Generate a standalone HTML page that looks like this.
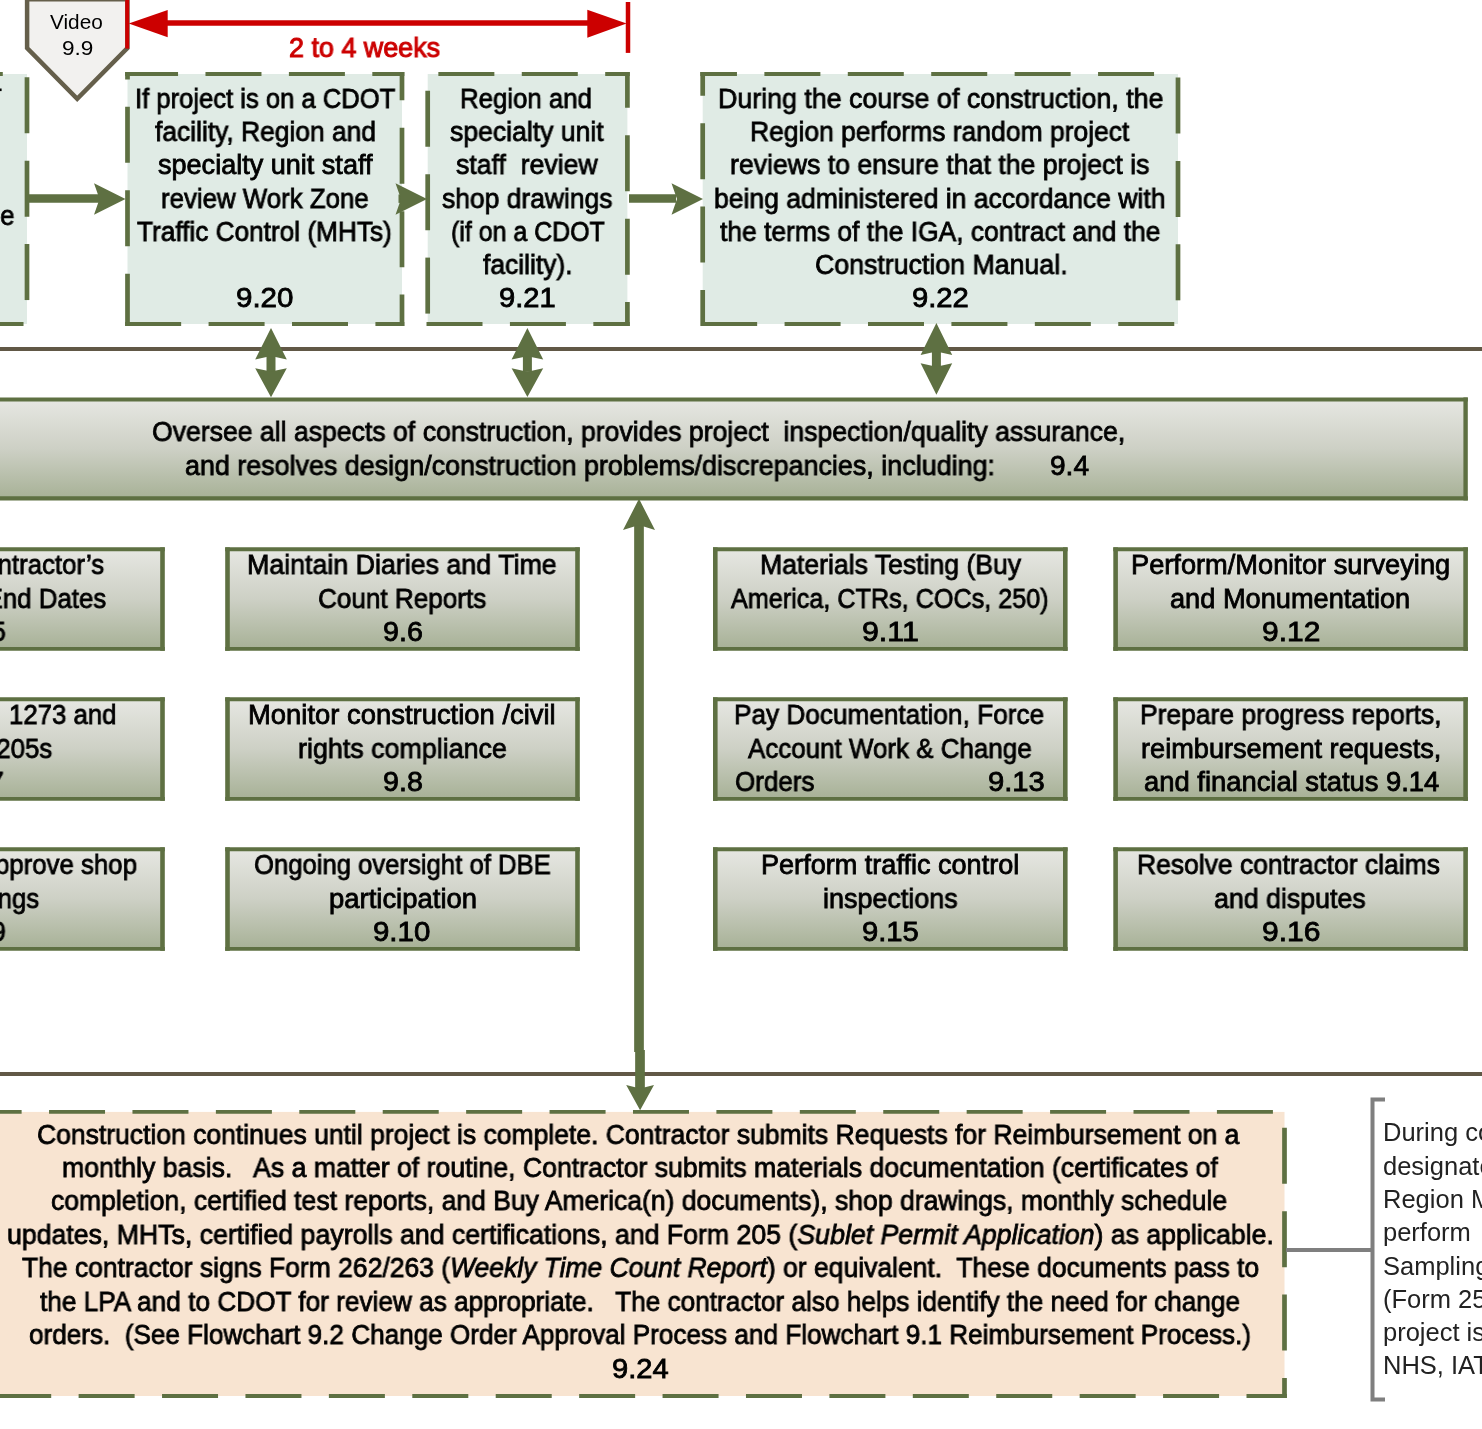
<!DOCTYPE html>
<html><head><meta charset="utf-8"><style>
html,body{margin:0;padding:0;background:#fff;width:1482px;height:1429px;overflow:hidden;position:relative}
svg{position:absolute;left:0;top:0}
.t{position:absolute;white-space:pre;will-change:transform;font-family:"Liberation Sans",sans-serif;line-height:1.111;transform-origin:0 0}
</style></head><body>
<svg width="1482" height="1429" viewBox="0 0 1482 1429">
<defs><linearGradient id="g1" x1="0" y1="0" x2="0" y2="1"><stop offset="0" stop-color="#e6e7e2"/><stop offset="0.5" stop-color="#cdd0c5"/><stop offset="1" stop-color="#a7b196"/></linearGradient></defs>
<rect x="-300" y="74" width="327" height="250" fill="#e0ebe5"/><line x1="-300.00" y1="325.95" x2="-300.00" y2="72.05" stroke="#5e7042" stroke-width="4.7" stroke-dasharray="56 27.42" stroke-dashoffset="1.77"/><line x1="-302.35" y1="74.00" x2="29.35" y2="74.00" stroke="#5e7042" stroke-width="3.9" stroke-dasharray="56 27.42" stroke-dashoffset="1.11"/><line x1="27.00" y1="72.05" x2="27.00" y2="325.95" stroke="#5e7042" stroke-width="4.7" stroke-dasharray="56 27.42" stroke-dashoffset="78.25"/><line x1="29.35" y1="324.00" x2="-302.35" y2="324.00" stroke="#5e7042" stroke-width="3.9" stroke-dasharray="56 27.42" stroke-dashoffset="77.59"/>
<rect x="0" y="88.5" width="1.6" height="2.6" fill="#000"/>
<rect x="127.5" y="74" width="274.5" height="250" fill="#e0ebe5"/><line x1="127.50" y1="325.95" x2="127.50" y2="72.05" stroke="#5e7042" stroke-width="4.7" stroke-dasharray="56 27.42" stroke-dashoffset="3.75"/><line x1="125.15" y1="74.00" x2="404.35" y2="74.00" stroke="#5e7042" stroke-width="3.9" stroke-dasharray="56 27.42" stroke-dashoffset="3.09"/><line x1="402.00" y1="72.05" x2="402.00" y2="325.95" stroke="#5e7042" stroke-width="4.7" stroke-dasharray="56 27.42" stroke-dashoffset="27.73"/><line x1="404.35" y1="324.00" x2="125.15" y2="324.00" stroke="#5e7042" stroke-width="3.9" stroke-dasharray="56 27.42" stroke-dashoffset="27.07"/>
<rect x="427.7" y="74" width="199.7" height="250" fill="#e0ebe5"/><line x1="427.70" y1="325.95" x2="427.70" y2="72.05" stroke="#5e7042" stroke-width="4.7" stroke-dasharray="56 27.42" stroke-dashoffset="71.07"/><line x1="425.35" y1="74.00" x2="629.75" y2="74.00" stroke="#5e7042" stroke-width="3.9" stroke-dasharray="56 27.42" stroke-dashoffset="70.41"/><line x1="627.40" y1="72.05" x2="627.40" y2="325.95" stroke="#5e7042" stroke-width="4.7" stroke-dasharray="56 27.42" stroke-dashoffset="20.25"/><line x1="629.75" y1="324.00" x2="425.35" y2="324.00" stroke="#5e7042" stroke-width="3.9" stroke-dasharray="56 27.42" stroke-dashoffset="19.59"/>
<rect x="702.7" y="74" width="475.29999999999995" height="250" fill="#e0ebe5"/><line x1="702.70" y1="325.95" x2="702.70" y2="72.05" stroke="#5e7042" stroke-width="4.7" stroke-dasharray="56 27.42" stroke-dashoffset="20.05"/><line x1="700.35" y1="74.00" x2="1180.35" y2="74.00" stroke="#5e7042" stroke-width="3.9" stroke-dasharray="56 27.42" stroke-dashoffset="19.39"/><line x1="1178.00" y1="72.05" x2="1178.00" y2="325.95" stroke="#5e7042" stroke-width="4.7" stroke-dasharray="56 27.42" stroke-dashoffset="77.99"/><line x1="1180.35" y1="324.00" x2="700.35" y2="324.00" stroke="#5e7042" stroke-width="3.9" stroke-dasharray="56 27.42" stroke-dashoffset="77.33"/>
<polygon points="27.1,-0.8 127.4,-0.8 127.4,48 77.2,98.8 27.1,48" fill="#f2f1ef" stroke="#655f4b" stroke-width="4.5"/>
<line x1="127.2" y1="-2" x2="127.2" y2="48.6" stroke="#cc0000" stroke-width="4"/>
<line x1="628" y1="2" x2="628" y2="52.9" stroke="#cc0000" stroke-width="4.5"/>
<line x1="160" y1="23" x2="595" y2="23" stroke="#cc0000" stroke-width="5.5"/>
<polygon points="128.7,23.5 167.7,9.9 167.7,37.2" fill="#cc0000"/>
<polygon points="626.6,23.5 587.3,9.8 587.3,37.8" fill="#cc0000"/>
<line x1="29" y1="198.5" x2="100" y2="198.5" stroke="#5e7042" stroke-width="8.4"/>
<polygon points="125.5,199.0 94.0,214.8 99.5,199.0 94.0,183.2" fill="#5e7042"/>
<line x1="398.5" y1="198.7" x2="412" y2="198.7" stroke="#5e7042" stroke-width="8.4"/>
<polygon points="427.0,199.0 395.5,214.8 401.0,199.0 395.5,183.2" fill="#5e7042"/>
<line x1="629" y1="198.5" x2="676" y2="198.5" stroke="#5e7042" stroke-width="8.4"/>
<polygon points="703.0,199.0 671.5,214.8 677.0,199.0 671.5,183.2" fill="#5e7042"/>
<line x1="0" y1="349" x2="1482" y2="349" stroke="#615846" stroke-width="4"/>
<line x1="0" y1="1074" x2="1482" y2="1074" stroke="#615846" stroke-width="4"/>
<line x1="271" y1="353" x2="271" y2="372.2" stroke="#5e7042" stroke-width="9"/>
<polygon points="271.0,328.0 286.8,359.5 271.0,356.1 255.2,359.5" fill="#5e7042"/>
<polygon points="271.0,397.2 255.2,368.2 271.0,371.6 286.8,368.2" fill="#5e7042"/>
<line x1="527.4" y1="353" x2="527.4" y2="371.9" stroke="#5e7042" stroke-width="9"/>
<polygon points="527.4,328.0 543.2,359.6 527.4,356.2 511.6,359.6" fill="#5e7042"/>
<polygon points="527.4,396.9 511.6,368.3 527.4,371.7 543.2,368.3" fill="#5e7042"/>
<line x1="936.4" y1="348" x2="936.4" y2="369.8" stroke="#5e7042" stroke-width="9"/>
<polygon points="936.4,323.0 952.2,354.9 936.4,351.5 920.6,354.9" fill="#5e7042"/>
<polygon points="936.4,394.8 920.6,363.3 936.4,366.7 952.2,363.3" fill="#5e7042"/>
<rect x="-300" y="399.5" width="1765.6" height="98.89999999999998" fill="url(#g1)"/><line x1="-300" y1="397.45" x2="-300" y2="500.45" stroke="#5e7042" stroke-width="4.4"/><line x1="1465.6" y1="397.45" x2="1465.6" y2="500.45" stroke="#5e7042" stroke-width="4.4"/><line x1="-302.2" y1="399.5" x2="1467.8" y2="399.5" stroke="#5e7042" stroke-width="4.1"/><line x1="-302.2" y1="498.4" x2="1467.8" y2="498.4" stroke="#5e7042" stroke-width="4.1"/>
<rect x="-187.5" y="549.3" width="350.0" height="99.60000000000002" fill="url(#g1)"/><line x1="-187.5" y1="547.3499999999999" x2="-187.5" y2="650.85" stroke="#5e7042" stroke-width="4.6"/><line x1="162.5" y1="547.3499999999999" x2="162.5" y2="650.85" stroke="#5e7042" stroke-width="4.6"/><line x1="-189.8" y1="549.3" x2="164.8" y2="549.3" stroke="#5e7042" stroke-width="3.9"/><line x1="-189.8" y1="648.9" x2="164.8" y2="648.9" stroke="#5e7042" stroke-width="3.9"/>
<rect x="227.5" y="549.3" width="350.0" height="99.60000000000002" fill="url(#g1)"/><line x1="227.5" y1="547.3499999999999" x2="227.5" y2="650.85" stroke="#5e7042" stroke-width="4.6"/><line x1="577.5" y1="547.3499999999999" x2="577.5" y2="650.85" stroke="#5e7042" stroke-width="4.6"/><line x1="225.2" y1="549.3" x2="579.8" y2="549.3" stroke="#5e7042" stroke-width="3.9"/><line x1="225.2" y1="648.9" x2="579.8" y2="648.9" stroke="#5e7042" stroke-width="3.9"/>
<rect x="715.3" y="549.3" width="350.0" height="99.60000000000002" fill="url(#g1)"/><line x1="715.3" y1="547.3499999999999" x2="715.3" y2="650.85" stroke="#5e7042" stroke-width="4.6"/><line x1="1065.3" y1="547.3499999999999" x2="1065.3" y2="650.85" stroke="#5e7042" stroke-width="4.6"/><line x1="713.0" y1="549.3" x2="1067.6" y2="549.3" stroke="#5e7042" stroke-width="3.9"/><line x1="713.0" y1="648.9" x2="1067.6" y2="648.9" stroke="#5e7042" stroke-width="3.9"/>
<rect x="1115.6" y="549.3" width="350.0" height="99.60000000000002" fill="url(#g1)"/><line x1="1115.6" y1="547.3499999999999" x2="1115.6" y2="650.85" stroke="#5e7042" stroke-width="4.6"/><line x1="1465.6" y1="547.3499999999999" x2="1465.6" y2="650.85" stroke="#5e7042" stroke-width="4.6"/><line x1="1113.3" y1="549.3" x2="1467.8999999999999" y2="549.3" stroke="#5e7042" stroke-width="3.9"/><line x1="1113.3" y1="648.9" x2="1467.8999999999999" y2="648.9" stroke="#5e7042" stroke-width="3.9"/>
<rect x="-187.5" y="699.3" width="350.0" height="99.60000000000002" fill="url(#g1)"/><line x1="-187.5" y1="697.3499999999999" x2="-187.5" y2="800.85" stroke="#5e7042" stroke-width="4.6"/><line x1="162.5" y1="697.3499999999999" x2="162.5" y2="800.85" stroke="#5e7042" stroke-width="4.6"/><line x1="-189.8" y1="699.3" x2="164.8" y2="699.3" stroke="#5e7042" stroke-width="3.9"/><line x1="-189.8" y1="798.9" x2="164.8" y2="798.9" stroke="#5e7042" stroke-width="3.9"/>
<rect x="227.5" y="699.3" width="350.0" height="99.60000000000002" fill="url(#g1)"/><line x1="227.5" y1="697.3499999999999" x2="227.5" y2="800.85" stroke="#5e7042" stroke-width="4.6"/><line x1="577.5" y1="697.3499999999999" x2="577.5" y2="800.85" stroke="#5e7042" stroke-width="4.6"/><line x1="225.2" y1="699.3" x2="579.8" y2="699.3" stroke="#5e7042" stroke-width="3.9"/><line x1="225.2" y1="798.9" x2="579.8" y2="798.9" stroke="#5e7042" stroke-width="3.9"/>
<rect x="715.3" y="699.3" width="350.0" height="99.60000000000002" fill="url(#g1)"/><line x1="715.3" y1="697.3499999999999" x2="715.3" y2="800.85" stroke="#5e7042" stroke-width="4.6"/><line x1="1065.3" y1="697.3499999999999" x2="1065.3" y2="800.85" stroke="#5e7042" stroke-width="4.6"/><line x1="713.0" y1="699.3" x2="1067.6" y2="699.3" stroke="#5e7042" stroke-width="3.9"/><line x1="713.0" y1="798.9" x2="1067.6" y2="798.9" stroke="#5e7042" stroke-width="3.9"/>
<rect x="1115.6" y="699.3" width="350.0" height="99.60000000000002" fill="url(#g1)"/><line x1="1115.6" y1="697.3499999999999" x2="1115.6" y2="800.85" stroke="#5e7042" stroke-width="4.6"/><line x1="1465.6" y1="697.3499999999999" x2="1465.6" y2="800.85" stroke="#5e7042" stroke-width="4.6"/><line x1="1113.3" y1="699.3" x2="1467.8999999999999" y2="699.3" stroke="#5e7042" stroke-width="3.9"/><line x1="1113.3" y1="798.9" x2="1467.8999999999999" y2="798.9" stroke="#5e7042" stroke-width="3.9"/>
<rect x="-187.5" y="849.3" width="350.0" height="99.60000000000002" fill="url(#g1)"/><line x1="-187.5" y1="847.3499999999999" x2="-187.5" y2="950.85" stroke="#5e7042" stroke-width="4.6"/><line x1="162.5" y1="847.3499999999999" x2="162.5" y2="950.85" stroke="#5e7042" stroke-width="4.6"/><line x1="-189.8" y1="849.3" x2="164.8" y2="849.3" stroke="#5e7042" stroke-width="3.9"/><line x1="-189.8" y1="948.9" x2="164.8" y2="948.9" stroke="#5e7042" stroke-width="3.9"/>
<rect x="227.5" y="849.3" width="350.0" height="99.60000000000002" fill="url(#g1)"/><line x1="227.5" y1="847.3499999999999" x2="227.5" y2="950.85" stroke="#5e7042" stroke-width="4.6"/><line x1="577.5" y1="847.3499999999999" x2="577.5" y2="950.85" stroke="#5e7042" stroke-width="4.6"/><line x1="225.2" y1="849.3" x2="579.8" y2="849.3" stroke="#5e7042" stroke-width="3.9"/><line x1="225.2" y1="948.9" x2="579.8" y2="948.9" stroke="#5e7042" stroke-width="3.9"/>
<rect x="715.3" y="849.3" width="350.0" height="99.60000000000002" fill="url(#g1)"/><line x1="715.3" y1="847.3499999999999" x2="715.3" y2="950.85" stroke="#5e7042" stroke-width="4.6"/><line x1="1065.3" y1="847.3499999999999" x2="1065.3" y2="950.85" stroke="#5e7042" stroke-width="4.6"/><line x1="713.0" y1="849.3" x2="1067.6" y2="849.3" stroke="#5e7042" stroke-width="3.9"/><line x1="713.0" y1="948.9" x2="1067.6" y2="948.9" stroke="#5e7042" stroke-width="3.9"/>
<rect x="1115.6" y="849.3" width="350.0" height="99.60000000000002" fill="url(#g1)"/><line x1="1115.6" y1="847.3499999999999" x2="1115.6" y2="950.85" stroke="#5e7042" stroke-width="4.6"/><line x1="1465.6" y1="847.3499999999999" x2="1465.6" y2="950.85" stroke="#5e7042" stroke-width="4.6"/><line x1="1113.3" y1="849.3" x2="1467.8999999999999" y2="849.3" stroke="#5e7042" stroke-width="3.9"/><line x1="1113.3" y1="948.9" x2="1467.8999999999999" y2="948.9" stroke="#5e7042" stroke-width="3.9"/>
<line x1="639" y1="520" x2="639" y2="1052" stroke="#5e7042" stroke-width="9.7"/>
<line x1="640" y1="1050" x2="640" y2="1090" stroke="#5e7042" stroke-width="9.7"/>
<polygon points="639.0,498.8 655.0,530.0 639.0,525.0 623.0,530.0" fill="#5e7042"/>
<polygon points="640.1,1110.3 626.2,1085.1 640.1,1088.6 654.0,1085.1" fill="#5e7042"/>
<rect x="-300" y="1111.9" width="1584.5" height="284.0999999999999" fill="#f8e4d1"/><line x1="-300.00" y1="1397.95" x2="-300.00" y2="1109.95" stroke="#5e7042" stroke-width="4.7" stroke-dasharray="56 27.42" stroke-dashoffset="32.27"/><line x1="-302.35" y1="1111.90" x2="1286.85" y2="1111.90" stroke="#5e7042" stroke-width="3.9" stroke-dasharray="56 27.42" stroke-dashoffset="65.71"/><line x1="1284.50" y1="1109.95" x2="1284.50" y2="1397.95" stroke="#5e7042" stroke-width="4.7" stroke-dasharray="56 27.42" stroke-dashoffset="65.63"/><line x1="1286.85" y1="1396.00" x2="-302.35" y2="1396.00" stroke="#5e7042" stroke-width="3.9" stroke-dasharray="56 27.42" stroke-dashoffset="15.65"/>
<line x1="1286" y1="1250" x2="1372" y2="1250" stroke="#7f7f7f" stroke-width="4"/>
<path d="M1385,1099.5 L1372.5,1099.5 L1372.5,1399.5 L1385,1399.5" fill="none" stroke="#7f7f7f" stroke-width="4"/>
</svg>
<div class="t" style="left:50.26px;top:11.00px;font-size:20.5px;color:#000;transform:scaleX(1.01339);">Video</div>
<div class="t" style="left:62.09px;top:37.00px;font-size:20.5px;color:#000;transform:scaleX(1.10103);">9.9</div>
<div class="t" style="left:289.38px;top:33.00px;font-size:27.2px;color:#cc0000;transform:scaleX(0.98976);-webkit-text-stroke:1.0px #cc0000;">2 to 4 weeks</div>
<div class="t" style="left:-103.26px;top:201.00px;font-size:27px;color:#000;transform:scaleX(0.95500);-webkit-text-stroke:0.8px #000;">review the</div>
<div class="t" style="left:134.57px;top:84.00px;font-size:27px;color:#000;transform:scaleX(0.94823);-webkit-text-stroke:0.8px #000;">If project is on a CDOT</div>
<div class="t" style="left:154.59px;top:117.00px;font-size:27px;color:#000;transform:scaleX(0.97758);-webkit-text-stroke:0.8px #000;">facility, Region and</div>
<div class="t" style="left:157.68px;top:150.00px;font-size:27px;color:#000;transform:scaleX(1.00164);-webkit-text-stroke:0.8px #000;">specialty unit staff</div>
<div class="t" style="left:160.79px;top:184.00px;font-size:27px;color:#000;transform:scaleX(0.95688);-webkit-text-stroke:0.8px #000;">review Work Zone</div>
<div class="t" style="left:137.28px;top:217.00px;font-size:27px;color:#000;transform:scaleX(0.97048);-webkit-text-stroke:0.8px #000;">Traffic Control (MHTs)</div>
<div class="t" style="left:236.34px;top:283.00px;font-size:27px;color:#000;transform:scaleX(1.09266);-webkit-text-stroke:0.8px #000;">9.20</div>
<div class="t" style="left:460.21px;top:84.00px;font-size:27px;color:#000;transform:scaleX(0.95547);-webkit-text-stroke:0.8px #000;">Region and</div>
<div class="t" style="left:449.79px;top:117.00px;font-size:27px;color:#000;transform:scaleX(0.98500);-webkit-text-stroke:0.8px #000;">specialty unit</div>
<div class="t" style="left:455.98px;top:150.00px;font-size:27px;color:#000;transform:scaleX(0.98707);-webkit-text-stroke:0.8px #000;">staff&nbsp; review</div>
<div class="t" style="left:442.37px;top:184.00px;font-size:27px;color:#000;transform:scaleX(0.97956);-webkit-text-stroke:0.8px #000;">shop drawings</div>
<div class="t" style="left:451.16px;top:217.00px;font-size:27px;color:#000;transform:scaleX(0.92379);-webkit-text-stroke:0.8px #000;">(if on a CDOT</div>
<div class="t" style="left:483.05px;top:250.00px;font-size:27px;color:#000;transform:scaleX(0.97875);-webkit-text-stroke:0.8px #000;">facility).</div>
<div class="t" style="left:499.35px;top:283.00px;font-size:27px;color:#000;transform:scaleX(1.07806);-webkit-text-stroke:0.8px #000;">9.21</div>
<div class="t" style="left:717.68px;top:84.00px;font-size:27px;color:#000;transform:scaleX(0.99255);-webkit-text-stroke:0.8px #000;">During the course of construction, the</div>
<div class="t" style="left:749.98px;top:117.00px;font-size:27px;color:#000;transform:scaleX(0.97948);-webkit-text-stroke:0.8px #000;">Region performs random project</div>
<div class="t" style="left:729.98px;top:150.00px;font-size:27px;color:#000;transform:scaleX(0.98739);-webkit-text-stroke:0.8px #000;">reviews to ensure that the project is</div>
<div class="t" style="left:713.89px;top:184.00px;font-size:27px;color:#000;transform:scaleX(0.98306);-webkit-text-stroke:0.8px #000;">being administered in accordance with</div>
<div class="t" style="left:719.80px;top:217.00px;font-size:27px;color:#000;transform:scaleX(0.97803);-webkit-text-stroke:0.8px #000;">the terms of the IGA, contract and the</div>
<div class="t" style="left:814.58px;top:250.00px;font-size:27px;color:#000;transform:scaleX(0.99009);-webkit-text-stroke:0.8px #000;">Construction Manual.</div>
<div class="t" style="left:912.16px;top:283.00px;font-size:27px;color:#000;transform:scaleX(1.08199);-webkit-text-stroke:0.8px #000;">9.22</div>
<div class="t" style="left:152.19px;top:417.00px;font-size:27px;color:#000;transform:scaleX(0.98553);-webkit-text-stroke:0.8px #000;">Oversee all aspects of construction, provides project&nbsp; inspection/quality assurance,</div>
<div class="t" style="left:185.39px;top:451.00px;font-size:27px;color:#000;transform:scaleX(0.99559);-webkit-text-stroke:0.8px #000;">and resolves design/construction problems/discrepancies, including:</div>
<div class="t" style="left:1050.21px;top:451.00px;font-size:27px;color:#000;transform:scaleX(1.03988);-webkit-text-stroke:0.8px #000;">9.4</div>
<div class="t" style="left:-126.61px;top:550.00px;font-size:27px;color:#000;transform:scaleX(0.95500);-webkit-text-stroke:0.8px #000;">Review Contractor’s</div>
<div class="t" style="left:-128.93px;top:584.00px;font-size:27px;color:#000;transform:scaleX(0.95500);-webkit-text-stroke:0.8px #000;">Schedule/End Dates</div>
<div class="t" style="left:-30.29px;top:617.00px;font-size:27px;color:#000;transform:scaleX(0.95500);-webkit-text-stroke:0.8px #000;">9.5</div>
<div class="t" style="left:8.69px;top:700.00px;font-size:27px;color:#000;transform:scaleX(0.95500);-webkit-text-stroke:0.8px #000;">1273 and</div>
<div class="t" style="left:-71.39px;top:734.00px;font-size:27px;color:#000;transform:scaleX(0.95500);-webkit-text-stroke:0.8px #000;">Form 205s</div>
<div class="t" style="left:-32.29px;top:767.00px;font-size:27px;color:#000;transform:scaleX(0.95500);-webkit-text-stroke:0.8px #000;">9.7</div>
<div class="t" style="left:-111.50px;top:850.00px;font-size:27px;color:#000;transform:scaleX(0.95500);-webkit-text-stroke:0.8px #000;">Review/approve shop</div>
<div class="t" style="left:-63.84px;top:884.00px;font-size:27px;color:#000;transform:scaleX(0.95500);-webkit-text-stroke:0.8px #000;">drawings</div>
<div class="t" style="left:-30.29px;top:917.00px;font-size:27px;color:#000;transform:scaleX(0.95500);-webkit-text-stroke:0.8px #000;">9.9</div>
<div class="t" style="left:246.97px;top:550.00px;font-size:27px;color:#000;transform:scaleX(0.99216);-webkit-text-stroke:0.8px #000;">Maintain Diaries and Time</div>
<div class="t" style="left:317.97px;top:584.00px;font-size:27px;color:#000;transform:scaleX(0.96705);-webkit-text-stroke:0.8px #000;">Count Reports</div>
<div class="t" style="left:382.99px;top:617.00px;font-size:27px;color:#000;transform:scaleX(1.06066);-webkit-text-stroke:0.8px #000;">9.6</div>
<div class="t" style="left:247.77px;top:700.00px;font-size:27px;color:#000;transform:scaleX(1.01511);-webkit-text-stroke:0.8px #000;">Monitor construction /civil</div>
<div class="t" style="left:298.17px;top:734.00px;font-size:27px;color:#000;transform:scaleX(0.99448);-webkit-text-stroke:0.8px #000;">rights compliance</div>
<div class="t" style="left:382.99px;top:767.00px;font-size:27px;color:#000;transform:scaleX(1.06066);-webkit-text-stroke:0.8px #000;">9.8</div>
<div class="t" style="left:253.69px;top:850.00px;font-size:27px;color:#000;transform:scaleX(0.95044);-webkit-text-stroke:0.8px #000;">Ongoing oversight of DBE</div>
<div class="t" style="left:328.95px;top:884.00px;font-size:27px;color:#000;transform:scaleX(1.01661);-webkit-text-stroke:0.8px #000;">participation</div>
<div class="t" style="left:373.34px;top:917.00px;font-size:27px;color:#000;transform:scaleX(1.09003);-webkit-text-stroke:0.8px #000;">9.10</div>
<div class="t" style="left:759.66px;top:550.00px;font-size:27px;color:#000;transform:scaleX(0.98524);-webkit-text-stroke:0.8px #000;">Materials Testing (Buy</div>
<div class="t" style="left:731.48px;top:584.00px;font-size:27px;color:#000;transform:scaleX(0.93266);-webkit-text-stroke:0.8px #000;">America, CTRs, COCs, 250)</div>
<div class="t" style="left:862.06px;top:617.00px;font-size:27px;color:#000;transform:scaleX(1.12369);-webkit-text-stroke:0.8px #000;">9.11</div>
<div class="t" style="left:734.26px;top:700.00px;font-size:27px;color:#000;transform:scaleX(0.96987);-webkit-text-stroke:0.8px #000;">Pay Documentation, Force</div>
<div class="t" style="left:748.49px;top:734.00px;font-size:27px;color:#000;transform:scaleX(0.96110);-webkit-text-stroke:0.8px #000;">Account Work &amp; Change</div>
<div class="t" style="left:735.22px;top:767.00px;font-size:27px;color:#000;transform:scaleX(0.96256);-webkit-text-stroke:0.8px #000;">Orders</div>
<div class="t" style="left:988.34px;top:767.00px;font-size:27px;color:#000;transform:scaleX(1.08199);-webkit-text-stroke:0.8px #000;">9.13</div>
<div class="t" style="left:760.65px;top:850.00px;font-size:27px;color:#000;transform:scaleX(1.00269);-webkit-text-stroke:0.8px #000;">Perform traffic control</div>
<div class="t" style="left:823.15px;top:884.00px;font-size:27px;color:#000;transform:scaleX(0.99752);-webkit-text-stroke:0.8px #000;">inspections</div>
<div class="t" style="left:862.06px;top:917.00px;font-size:27px;color:#000;transform:scaleX(1.08199);-webkit-text-stroke:0.8px #000;">9.15</div>
<div class="t" style="left:1130.96px;top:550.00px;font-size:27px;color:#000;transform:scaleX(1.00814);-webkit-text-stroke:0.8px #000;">Perform/Monitor surveying</div>
<div class="t" style="left:1170.46px;top:584.00px;font-size:27px;color:#000;transform:scaleX(1.00656);-webkit-text-stroke:0.8px #000;">and Monumentation</div>
<div class="t" style="left:1262.06px;top:617.00px;font-size:27px;color:#000;transform:scaleX(1.10925);-webkit-text-stroke:0.8px #000;">9.12</div>
<div class="t" style="left:1140.15px;top:700.00px;font-size:27px;color:#000;transform:scaleX(0.97959);-webkit-text-stroke:0.8px #000;">Prepare progress reports,</div>
<div class="t" style="left:1141.17px;top:734.00px;font-size:27px;color:#000;transform:scaleX(1.00560);-webkit-text-stroke:0.8px #000;">reimbursement requests,</div>
<div class="t" style="left:1143.69px;top:767.00px;font-size:27px;color:#000;transform:scaleX(1.01418);-webkit-text-stroke:0.8px #000;">and financial status 9.14</div>
<div class="t" style="left:1137.27px;top:850.00px;font-size:27px;color:#000;transform:scaleX(0.98039);-webkit-text-stroke:0.8px #000;">Resolve contractor claims</div>
<div class="t" style="left:1213.97px;top:884.00px;font-size:27px;color:#000;transform:scaleX(0.99123);-webkit-text-stroke:0.8px #000;">and disputes</div>
<div class="t" style="left:1262.04px;top:917.00px;font-size:27px;color:#000;transform:scaleX(1.11142);-webkit-text-stroke:0.8px #000;">9.16</div>
<div class="t" style="left:37.00px;top:1120.00px;font-size:27px;color:#000;transform:scaleX(0.98188);-webkit-text-stroke:0.8px #000;">Construction continues until project is complete. Contractor submits Requests for Reimbursement on a</div>
<div class="t" style="left:61.70px;top:1153.00px;font-size:27px;color:#000;transform:scaleX(0.98745);-webkit-text-stroke:0.8px #000;">monthly basis.&nbsp;&nbsp; As a matter of routine, Contractor submits materials documentation (certificates of</div>
<div class="t" style="left:50.80px;top:1186.00px;font-size:27px;color:#000;transform:scaleX(0.98213);-webkit-text-stroke:0.8px #000;">completion, certified test reports, and Buy America(n) documents), shop drawings, monthly schedule</div>
<div class="t" style="left:7.49px;top:1220.00px;font-size:27px;color:#000;transform:scaleX(0.98816);-webkit-text-stroke:0.8px #000;">updates, MHTs, certified payrolls and certifications, and Form 205 (<i>Sublet Permit Application</i>) as applicable.</div>
<div class="t" style="left:21.70px;top:1253.00px;font-size:27px;color:#000;transform:scaleX(0.98010);-webkit-text-stroke:0.8px #000;">The contractor signs Form 262/263 (<i>Weekly Time Count Report</i>) or equivalent.&nbsp; These documents pass to</div>
<div class="t" style="left:39.50px;top:1287.00px;font-size:27px;color:#000;transform:scaleX(0.97026);-webkit-text-stroke:0.8px #000;">the LPA and to CDOT for review as appropriate.&nbsp;&nbsp; The contractor also helps identify the need for change</div>
<div class="t" style="left:29.19px;top:1320.00px;font-size:27px;color:#000;transform:scaleX(0.96715);-webkit-text-stroke:0.8px #000;">orders.&nbsp; (See Flowchart 9.2 Change Order Approval Process and Flowchart 9.1 Reimbursement Process.)</div>
<div class="t" style="left:611.98px;top:1354.00px;font-size:27px;color:#000;transform:scaleX(1.07806);-webkit-text-stroke:0.8px #000;">9.24</div>
<div class="t" style="left:1382.60px;top:1118.00px;font-size:25.5px;line-height:28px;color:#222">During construction, the</div>
<div class="t" style="left:1382.60px;top:1152.00px;font-size:25.5px;line-height:28px;color:#222">designated</div>
<div class="t" style="left:1382.60px;top:1185.00px;font-size:25.5px;line-height:28px;color:#222">Region Materials</div>
<div class="t" style="left:1382.60px;top:1218.00px;font-size:25.5px;line-height:28px;color:#222">perform</div>
<div class="t" style="left:1382.60px;top:1252.00px;font-size:25.5px;line-height:28px;color:#222">Sampling</div>
<div class="t" style="left:1382.60px;top:1285.00px;font-size:25.5px;line-height:28px;color:#222">(Form 250)</div>
<div class="t" style="left:1382.60px;top:1318.00px;font-size:25.5px;line-height:28px;color:#222">project is</div>
<div class="t" style="left:1382.60px;top:1351.00px;font-size:25.5px;line-height:28px;color:#222">NHS, IATA</div>
</body></html>
